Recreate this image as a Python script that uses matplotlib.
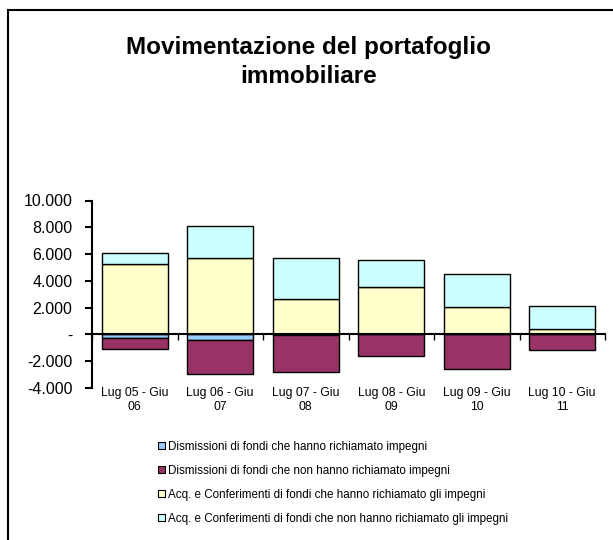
import numpy as np
import matplotlib
matplotlib.use('Agg')
import matplotlib.pyplot as plt
from matplotlib.patches import Patch
from matplotlib.lines import Line2D

plt.rcParams['font.family'] = ['Liberation Sans', 'DejaVu Sans']

# data (values in thousands)
periods = ['Lug 05 - Giu\n06', 'Lug 06 - Giu\n07', 'Lug 07 - Giu\n08',
           'Lug 08 - Giu\n09', 'Lug 09 - Giu\n10', 'Lug 10 - Giu\n11']
dism_richiamato = [-250, -450, -50, 0, 0, 0]
dism_non_richiamato = [-820, -2490, -2740, -1590, -2610, -1170]
acq_richiamato = [5270, 5720, 2610, 3510, 2060, 370]
acq_non_richiamato = [820, 2340, 3110, 2060, 2420, 1790]

series_names = ['Dismissioni di fondi che hanno richiamato impegni',
                'Dismissioni di fondi che non hanno richiamato impegni',
                'Acq. e Conferimenti di fondi che hanno richiamato gli impegni',
                'Acq. e Conferimenti di fondi che non hanno richiamato gli impegni']
colors = ['#99CCFF', '#993366', '#FFFFCC', '#CCFFFF']

yticks = [-4000, -2000, 0, 2000, 4000, 6000, 8000, 10000]


def fmt(v):
    if v == 0:
        return '-'
    return '{:,}'.format(v).replace(',', '.')


fig = plt.figure(figsize=(6.13, 5.40), dpi=100)
ax = fig.add_axes([92 / 613, 1 - 388 / 540, 513 / 613, 187.5 / 540])

x = np.arange(len(periods))
w = 0.77
ax.bar(x, dism_richiamato, w, color=colors[0], edgecolor='black', linewidth=1)
ax.bar(x, dism_non_richiamato, w, bottom=dism_richiamato, color=colors[1],
       edgecolor='black', linewidth=1)
ax.bar(x, acq_richiamato, w, color=colors[2], edgecolor='black', linewidth=1)
ax.bar(x, acq_non_richiamato, w, bottom=acq_richiamato, color=colors[3],
       edgecolor='black', linewidth=1)

ax.set_xlim(-0.5, len(periods) - 0.5)
ax.set_ylim(-4000, 10000)
ax.set_yticks(yticks)
ax.set_yticklabels([fmt(v) for v in yticks], fontsize=11.5)
ax.tick_params(axis='y', direction='out', length=5, width=1.5, pad=9)

ax.spines['top'].set_visible(False)
ax.spines['right'].set_visible(False)
ax.spines['left'].set_linewidth(1.5)
ax.spines['bottom'].set_position(('data', 0))
ax.spines['bottom'].set_linewidth(1.5)
ax.spines['bottom'].set_zorder(5)
ax.set_xticks(np.arange(len(periods) + 1) - 0.5)
ax.set_xticklabels([])
ax.tick_params(axis='x', direction='out', length=4, width=1)

for i, lab in enumerate(periods):
    ax.text(i, -3950, lab, ha='center', va='top', fontsize=8.8, linespacing=1.15)

fig.text(0.503, 0.885, 'Movimentazione del portafoglio\nimmobiliare',
         ha='center', va='center', fontsize=17.5, fontweight='bold', linespacing=1.35)

handles = [Patch(facecolor=c, edgecolor='black', linewidth=0.8) for c in colors]
fig.legend(handles, series_names, loc='upper left',
           bbox_to_anchor=(152 / 613, 1 - 435 / 540), frameon=False,
           fontsize=8.4, handlelength=0.6, handleheight=0.6, handletextpad=0.3,
           labelspacing=1.03, borderpad=0)

# chart area border (top and left visible)
fig.add_artist(Line2D([7.5 / 613, 1], [1 - 10 / 540, 1 - 10 / 540],
                      transform=fig.transFigure, color='black', linewidth=1.5))
fig.add_artist(Line2D([7.5 / 613, 7.5 / 613], [0, 1 - 10 / 540],
                      transform=fig.transFigure, color='black', linewidth=1.5))

fig.savefig('out.png', dpi=100)
